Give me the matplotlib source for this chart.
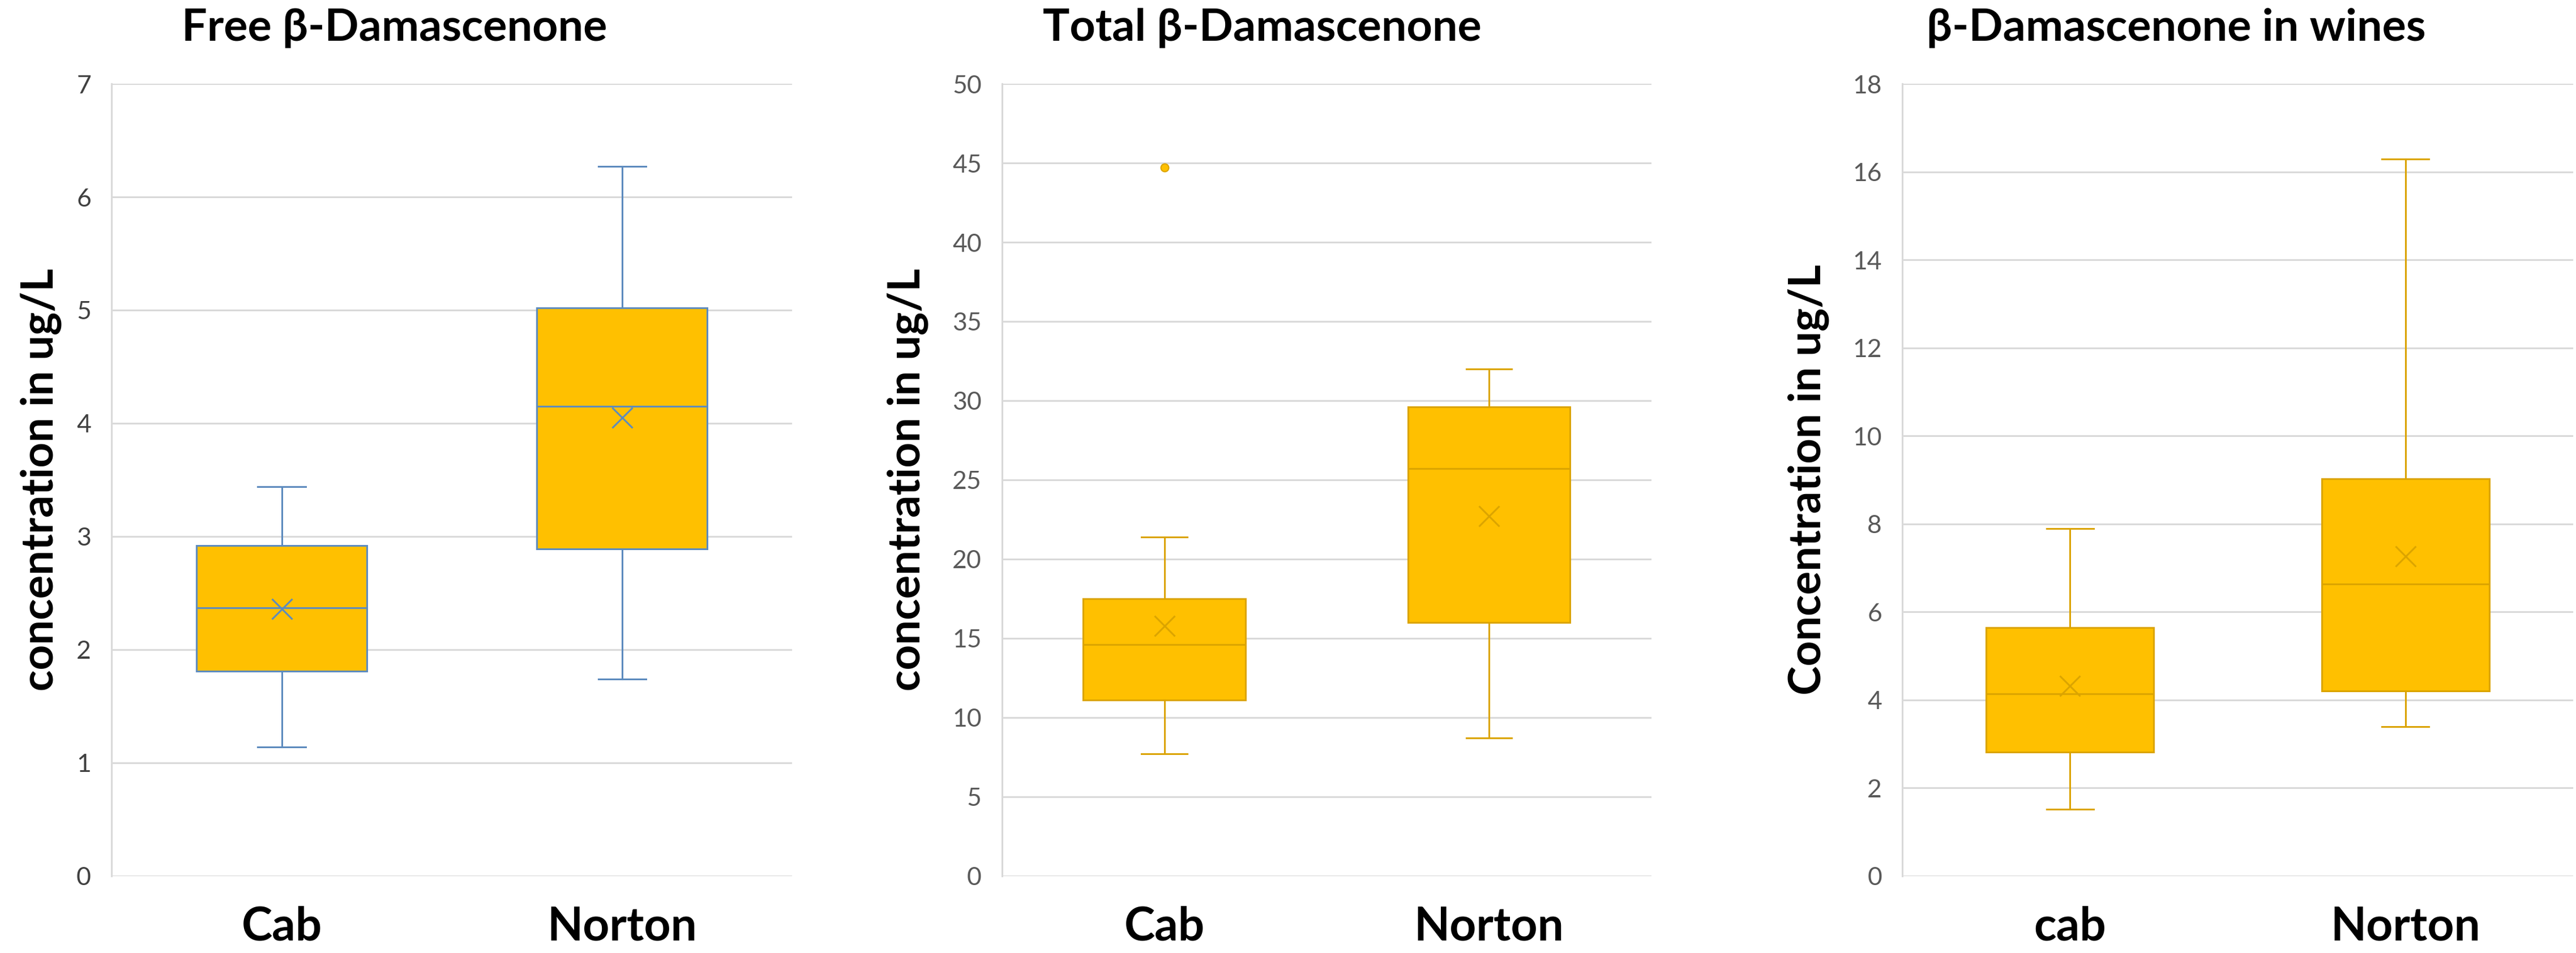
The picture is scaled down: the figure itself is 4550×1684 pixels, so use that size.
import matplotlib
matplotlib.use("Agg")
import matplotlib.pyplot as plt

plt.rcParams["font.family"] = ["Lato", "DejaVu Sans"]

# ---- data (box stats per group) ----
free_labels = ["Cab", "Norton"]
free_lo = [1.14, 1.74]
free_q1 = [1.81, 2.89]
free_med = [2.37, 4.15]
free_q3 = [2.92, 5.02]
free_hi = [3.44, 6.27]
free_mean = [2.36, 4.05]
free_fliers = [[], []]

total_labels = ["Cab", "Norton"]
total_lo = [7.7, 8.7]
total_q1 = [11.1, 16.0]
total_med = [14.6, 25.7]
total_q3 = [17.5, 29.6]
total_hi = [21.4, 32.0]
total_mean = [15.8, 22.7]
total_fliers = [[44.7], []]

wine_labels = ["cab", "Norton"]
wine_lo = [1.52, 3.40]
wine_q1 = [2.82, 4.20]
wine_med = [4.14, 6.63]
wine_q3 = [5.65, 9.03]
wine_hi = [7.90, 16.29]
wine_mean = [4.32, 7.27]
wine_fliers = [[], []]

FILL = "#FFC000"
BLUE = "#5D8BBE"
GOLD = "#DBA400"
GRID = "#D9D9D9"


def stats(labels, lo, q1, med, q3, hi, mean, fliers):
    return [
        dict(label=labels[i], whislo=lo[i], q1=q1[i], med=med[i], q3=q3[i],
             whishi=hi[i], mean=mean[i], fliers=fliers[i])
        for i in range(len(labels))
    ]


def draw(ax, st, line_col, ymax, step, title, title_x, ylabel, ylabel_x, tick_col):
    lw = 2.2
    ax.bxp(
        st, positions=[1, 2], widths=0.5, capwidths=0.14, patch_artist=True,
        showmeans=True, meanline=False,
        boxprops=dict(facecolor=FILL, edgecolor=line_col, linewidth=lw),
        medianprops=dict(color=line_col, linewidth=lw),
        whiskerprops=dict(color=line_col, linewidth=lw),
        capprops=dict(color=line_col, linewidth=lw),
        meanprops=dict(marker="x", markersize=26, markeredgecolor=line_col,
                       markeredgewidth=2.2),
        flierprops=dict(marker="o", markersize=10, markerfacecolor=FILL,
                        markeredgecolor=GOLD, markeredgewidth=1.5),
    )
    ax.set_xlim(0.5, 2.5)
    ax.set_ylim(0, ymax)
    ax.set_yticks([step * k for k in range(int(round(ymax / step)) + 1)])
    ax.yaxis.grid(True, color=GRID, linewidth=2.2)
    ax.set_axisbelow(True)
    for s in ["top", "right", "bottom"]:
        ax.spines[s].set_visible(False)
    ax.spines["left"].set_color(GRID)
    ax.spines["left"].set_linewidth(2.2)
    ax.tick_params(axis="y", length=0, pad=26, labelsize=32, labelcolor=tick_col)
    ax.tick_params(axis="x", length=0, pad=38, labelsize=59)
    for t in ax.get_xticklabels():
        t.set_fontweight("bold")
    ax.text(title_x, 1.054, title, transform=ax.transAxes, ha="center",
            va="baseline", fontsize=57, fontweight="bold")
    ax.text(ylabel_x, 0.5, ylabel, transform=ax.transAxes, ha="center",
            va="center", rotation=90, fontsize=56, fontweight="bold")


fig = plt.figure(figsize=(45.5, 16.84), dpi=100)
ax1 = fig.add_axes([0.0433, 0.0808, 0.2642, 0.8313])
ax2 = fig.add_axes([0.3890, 0.0808, 0.2520, 0.8313])
ax3 = fig.add_axes([0.7385, 0.0808, 0.2604, 0.8313])

draw(ax1, stats(free_labels, free_lo, free_q1, free_med, free_q3, free_hi, free_mean, free_fliers),
     BLUE, 7, 1, "Free β-Damascenone", 0.416, "concentration in ug/L", -0.104, "#404040")
draw(ax2, stats(total_labels, total_lo, total_q1, total_med, total_q3, total_hi, total_mean, total_fliers),
     GOLD, 50, 5, "Total β-Damascenone", 0.401, "concentration in ug/L", -0.145, "#595959")
draw(ax3, stats(wine_labels, wine_lo, wine_q1, wine_med, wine_q3, wine_hi, wine_mean, wine_fliers),
     GOLD, 18, 2, "β-Damascenone in wines", 0.408, "Concentration in ug/L", -0.140, "#595959")

fig.savefig("out.png", dpi=100)
